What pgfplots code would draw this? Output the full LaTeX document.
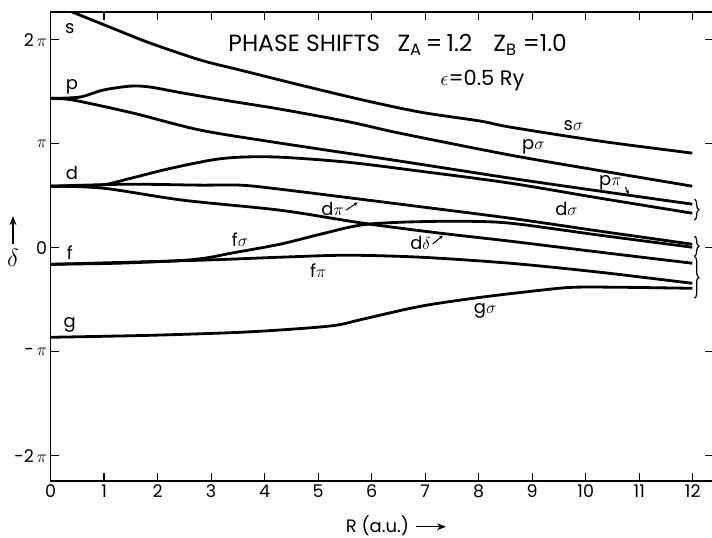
\documentclass[border=0pt]{standalone}
\usepackage{fontspec}
\setmainfont{Poppins}
\usepackage{pgfplots}
\pgfplotsset{compat=1.18}
\usetikzlibrary{arrows.meta,decorations.pathreplacing}
\newcommand\F{\fontsize{18}{21}\selectfont}
\newcommand\T{\fontsize{23.5}{26}\selectfont}
\newcommand\K{\fontsize{17.5}{20}\selectfont}
\begin{document}
\begin{tikzpicture}
\begin{axis}[
  scale only axis, width=661.5bp, height=468.4bp,
  xmin=0, xmax=12.37, ymin=-2.245, ymax=2.263,
  xtick={0,...,12}, ytick={-2,-1,0,1,2},
  yticklabels={-2\,$\pi$,-\,$\pi$,0,$\pi$,2\,$\pi$},
  /pgf/number format/assume math mode=true,
  tick align=inside, major tick length=8bp,
  every tick/.style={black, line width=1.2bp},
  axis line style={line width=1.8bp},
  tick label style={font=\K},
  label style={font=\F},
  xlabel={R (a.u.) \tikz[baseline=-0.55ex]\draw[line width=1.2bp,-{Stealth[length=9bp,width=7bp]}] (0,0)--(30bp,0);},
  xlabel style={at={(axis description cs:0,0)}, anchor=base west, xshift=291.5bp, yshift=-51bp},
  ylabel={\tikz\draw[line width=1.2bp,-{Stealth[length=9bp,width=7bp]}] (0,0)--(0,28bp);\\[1bp]{\fontsize{24}{24}\selectfont$\delta$}},
  ylabel style={rotate=-90, align=center, at={(axis description cs:0,0.512)}, anchor=center, xshift=-37.5bp},
  curve/.style={black, solid, line width=2.8bp, smooth, tension=0.5, mark=none, line join=round},
]
% s sigma
\addplot[curve] coordinates {(0,2.352) (0.42,2.263) (1.24,2.093) (1.86,1.967) (2.80,1.804) (3.54,1.708) (4.67,1.563) (5.84,1.419) (6.91,1.303) (8.03,1.217) (8.59,1.159) (10.27,1.024) (11.99,0.909)};
% p sigma
\addplot[curve] coordinates {(0,1.435) (0.55,1.448) (0.98,1.515) (1.49,1.553) (1.86,1.544) (2.48,1.486) (3.36,1.409) (4.29,1.332) (5.60,1.207) (6.53,1.100) (8.59,0.890) (10.27,0.740) (11.99,0.591)};
% p pi
\addplot[curve] coordinates {(0,1.435) (0.42,1.419) (1.54,1.294) (2.80,1.130) (4.29,1.005) (6.53,0.832) (8.59,0.668) (10.27,0.543) (11.99,0.418)};
% d sigma
\addplot[curve] coordinates {(0,0.591) (0.93,0.601) (1.43,0.658) (2.18,0.755) (2.99,0.841) (3.54,0.870) (4.29,0.870) (5.54,0.822) (6.91,0.735) (8.59,0.620) (10.27,0.475) (11.99,0.331)};
% d pi
\addplot[curve] coordinates {(0,0.591) (1.43,0.610) (2.80,0.601) (3.54,0.601) (4.29,0.562) (6.53,0.418) (8.59,0.283) (10.27,0.158) (11.99,0.033)};
% d delta
\addplot[curve] coordinates {(0,0.591) (0.98,0.572) (2.48,0.456) (4.29,0.360) (5.84,0.235) (7.28,0.139) (8.59,0.062) (10.27,-0.044) (11.99,-0.150)};
% f sigma
\addplot[curve] coordinates {(0,-0.160) (1.24,-0.150) (2.40,-0.125) (2.90,-0.100) (3.41,-0.050) (4.29,0.033) (5.04,0.129) (5.78,0.216) (6.53,0.244) (7.60,0.254) (8.59,0.235) (10.27,0.119) (11.99,0.004)};
% f pi
\addplot[curve] coordinates {(0,-0.160) (2.80,-0.121) (4.29,-0.092) (5.54,-0.073) (6.91,-0.092) (8.59,-0.150) (10.27,-0.237) (11.99,-0.343)};
% g sigma
\addplot[curve] coordinates {(0,-0.862) (1.86,-0.843) (3.54,-0.814) (4.67,-0.778) (5.35,-0.745) (5.85,-0.686) (6.91,-0.564) (8.03,-0.478) (9.15,-0.410) (9.77,-0.381) (10.65,-0.381) (11.99,-0.391)};

\node[font=\F] at (axis cs:0.36,2.11) {s};
\node[font=\F] at (axis cs:0.40,1.544) {p};
\node[font=\F] at (axis cs:0.40,0.716) {d};
\node[font=\F] at (axis cs:0.36,-0.044) {f};
\node[font=\F] at (axis cs:0.36,-0.747) {g};
\node[font=\F] at (axis cs:9.77,1.178) {s$\sigma$};
\node[font=\F] at (axis cs:9.02,0.966) {p$\sigma$};
\node[font=\F] at (axis cs:10.46,0.620) {p$\pi$};
\draw[line width=1bp,-{Stealth[length=4bp,width=3.5bp]}] (axis cs:10.74,0.585) -- (axis cs:10.80,0.515);
\node[font=\F] at (axis cs:9.64,0.368) {d$\sigma$};
\node[font=\F] at (axis cs:5.27,0.368) {d$\pi$};
\draw[line width=1bp,-{Stealth[length=4bp,width=3.5bp]}] (axis cs:5.52,0.36) -- (axis cs:5.74,0.435);
\node[font=\F] at (axis cs:6.91,0.042) {d$\delta$};
\draw[line width=1bp,-{Stealth[length=4bp,width=3.5bp]}] (axis cs:7.14,0.035) -- (axis cs:7.33,0.115);
\node[font=\F] at (axis cs:3.54,0.081) {f$\sigma$};
\node[font=\F] at (axis cs:5.0,-0.218) {f$\pi$};
\node[font=\F] at (axis cs:8.12,-0.604) {g$\sigma$};

\node[font=\T, anchor=base west, inner sep=0pt] at (axis cs:3.32,1.886) {PHASE SHIFTS};
\node[font=\T, anchor=base west, inner sep=0pt] at (axis cs:6.48,1.886) {Z\textsubscript{A}\,=\,1.2};
\node[font=\T, anchor=base west, inner sep=0pt] at (axis cs:8.27,1.886) {Z\textsubscript{B} =1.0};
\node[font=\F, anchor=base west, inner sep=0pt] at (axis cs:7.28,1.563) {\fontsize{21}{24}\selectfont$\epsilon$=0.5 Ry};

\draw[decorate, decoration={brace, amplitude=4.5bp}, line width=1.2bp] (axis cs:12.03,0.466) -- (axis cs:12.03,0.264);
\draw[decorate, decoration={brace, amplitude=4.5bp}, line width=1.2bp] (axis cs:12.03,0.110) -- (axis cs:12.03,-0.083);
\draw[decorate, decoration={brace, amplitude=4.5bp}, line width=1.2bp] (axis cs:12.03,-0.083) -- (axis cs:12.03,-0.487);

\coordinate (BL) at (rel axis cs:0,0);
\coordinate (TR) at (rel axis cs:1,1);
\end{axis}
\pgfresetboundingbox
\path[use as bounding box] ([xshift=-50.5bp,yshift=-56.3bp]BL) rectangle ([xshift=-0.6bp,yshift=12.3bp]TR);
\end{tikzpicture}
\end{document}
